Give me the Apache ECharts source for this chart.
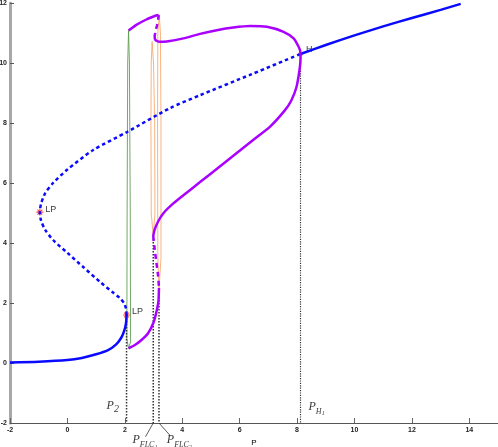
<!DOCTYPE html>
<html>
<head>
<meta charset="utf-8">
<script src="https://cdn.jsdelivr.net/npm/echarts@6/dist/echarts.min.js"></script>
<style>
  html, body { margin: 0; padding: 0; background: #fff; }
  #container { width: 498px; height: 447px; }
</style>
</head>
<body>
<div id="container"></div>
<script>
// equilibrium branch (P, x)
let eqStableLow = [[-2, 0.02], [-1, 0.045], [0, 0.1], [0.5, 0.17], [1, 0.29], [1.4, 0.42], [1.7, 0.62], [1.88, 0.85], [1.98, 1.08], [2.04, 1.32], [2.06, 1.6]];
let eqUnstable = [[2.06, 1.6], [2.04, 1.82], [1.97, 2.0], [1.82, 2.17], [1.6, 2.34], [1.14, 2.7], [0.55, 3.2], [0, 3.67], [-0.5, 4.1], [-0.78, 4.45],
    [-0.92, 4.75], [-0.96, 5.03], [-0.92, 5.3], [-0.78, 5.65], [-0.5, 6.0], [0, 6.45], [0.9, 7.1], [2.08, 7.7], [3.58, 8.5], [4.63, 8.93], [6.4, 9.62], [8.12, 10.3]];
let eqStableHigh = [[8.12, 10.3], [9, 10.6], [10, 10.92], [11, 11.22], [12, 11.5], [13, 11.77], [13.7, 11.97]];

// limit cycle branch, max and min
let lcMaxStableA = [[2.13, 11.08], [2.4, 11.27], [2.75, 11.45], [3.0, 11.55], [3.12, 11.59], [3.18, 11.6]];
let lcMaxUnstable = [[3.18, 11.6], [3.16, 11.45], [3.12, 11.25], [3.08, 11.1], [3.06, 11.0]];
let lcMaxStableB = [[3.06, 11.0], [3.04, 10.9], [3.05, 10.8], [3.1, 10.74], [3.2, 10.71], [3.46, 10.72], [4.04, 10.82], [4.62, 10.97], [5.2, 11.09],
    [5.78, 11.18], [6.37, 11.23], [6.95, 11.21], [7.53, 11.04], [7.88, 10.82], [8.05, 10.55], [8.11, 10.4], [8.12, 10.3]];
let lcMinStableA = [[8.12, 10.3], [8.12, 10.15], [8.09, 9.8], [7.98, 9.2], [7.8, 8.75], [7.58, 8.43], [7.06, 7.88], [6.48, 7.44], [6.02, 7.09], [5.32, 6.56],
    [4.62, 6.03], [4.13, 5.66], [3.69, 5.32], [3.35, 5.0], [3.15, 4.7], [3.03, 4.42], [2.99, 4.23]];
let lcMinUnstable = [[2.99, 4.23], [3.04, 3.8], [3.1, 3.35], [3.16, 2.9], [3.19, 2.5]];
let lcMinStableB = [[3.19, 2.5], [3.17, 2.05], [3.1, 1.7], [3.0, 1.35], [2.81, 0.99], [2.55, 0.74], [2.35, 0.6], [2.13, 0.49]];

// sample orbits
let orbitGreen = [[2.07, 0.8], [2.13, 0.49], [2.2, 0.7], [2.19, 5], [2.16, 10], [2.13, 11.08], [2.1, 10], [2.08, 5], [2.07, 0.8]];
let orbitOrange1 = [[2.99, 4.25], [3.05, 5], [3.04, 8], [3.0, 10], [2.95, 10.71], [2.92, 10], [2.91, 8], [2.92, 5], [2.99, 4.25]];
let orbitOrange2 = [[3.19, 2.45], [3.26, 3.5], [3.26, 8], [3.24, 11], [3.2, 11.6], [3.15, 11], [3.14, 8], [3.15, 3.5], [3.19, 2.45]];

// special points
let lpPoints = [[-0.96, 5.03], [2.06, 1.6]];
let hopfPoint = [8.12, 10.3];
let dropP2 = [[2.06, 1.6], [2.06, -2]];
let dropFLC1 = [[2.99, 4.23], [2.99, -2]];
let dropFLC2 = [[3.19, 2.5], [3.19, -2]];
let dropH1 = [[8.12, 10.3], [8.12, -2]];
let leaderFLC1 = [[2.99, -2], [2.72, -2.46]];
let leaderFLC2 = [[3.19, -2], [3.6, -2.44]];
let paramLabels = [
    { value: [1.58, -1.45], text: '{m|P}{s2|2}' },
    { value: [2.7, -2.6], text: '{m|P}{s|FLC}{ss|1}' },
    { value: [3.9, -2.6], text: '{m|P}{s|FLC}{ss|2}' },
    { value: [8.68, -1.49], text: '{m|P}{s|H}{ss|1}' }
];

let xTicks = { min: -2, max: 15, interval: 2 };
let yTicks = { min: -2, max: 12, interval: 2 };

let blue = '#0a0aff';
let purple = '#aa00ff';
let star = 'path://M-0.8,-5L0.8,-5L0.8,5L-0.8,5Z M-5,-0.8L5,-0.8L5,0.8L-5,0.8Z M-4,-2.9L-2.9,-4L4,2.9L2.9,4Z M2.9,-4L4,-2.9L-2.9,4L-4,2.9Z';

function curve(data, color, width, type, smooth, opacity) {
    return {
        type: 'line', data: data, symbol: 'none', smooth: smooth, clip: false, silent: true,
        lineStyle: { color: color, width: width, type: type, opacity: opacity === undefined ? 1 : opacity }
    };
}

let serif = { fontFamily: 'Liberation Serif', fontStyle: 'italic', color: '#000' };

let dom = document.getElementById('container');
let myChart = echarts.init(dom);
let option = {
    animation: false,
    grid: { left: 10, right: 0, top: 3, bottom: 24, containLabel: false, outerBoundsMode: 'none' },
    xAxis: {
        type: 'value', min: xTicks.min, max: xTicks.max, interval: xTicks.interval,
        name: 'P', nameLocation: 'middle', nameGap: 12,
        nameTextStyle: { fontSize: 8, color: '#000', fontFamily: 'Liberation Sans' },
        axisLine: { onZero: false, lineStyle: { color: '#555', width: 1 } },
        axisTick: { inside: true, length: 5, lineStyle: { color: '#666' } },
        axisLabel: { fontSize: 7, fontWeight: 'bold', color: '#222', margin: 4, showMaxLabel: false },
        splitLine: { show: false }
    },
    yAxis: {
        type: 'value', min: yTicks.min, max: yTicks.max, interval: yTicks.interval,
        axisLine: { onZero: false, lineStyle: { color: '#a8a8a8', width: 3 } },
        axisTick: { inside: true, length: 4, lineStyle: { color: '#555' } },
        axisLabel: { fontSize: 7, fontWeight: 'bold', color: '#222', margin: 3 },
        splitLine: { show: false }
    },
    series: [
        curve(orbitGreen, '#5a9a4e', 1, 'solid', false, 0.85),
        curve(orbitOrange1, '#f59a55', 1, 'solid', false, 0.75),
        curve(orbitOrange2, '#f59a55', 1, 'solid', false, 0.75),
        curve(dropP2, '#333', 1.5, 'dotted', false),
        curve(dropFLC1, '#333', 1.5, 'dotted', false),
        curve(dropFLC2, '#333', 1.5, 'dotted', false),
        curve(dropH1, '#333', 1.2, 'dotted', false),
        curve(leaderFLC1, '#333', 0.8, 'solid', false),
        curve(leaderFLC2, '#333', 0.8, 'solid', false),
        curve(eqStableLow, blue, 2.5, 'solid', 0.25),
        curve(eqUnstable, blue, 2.5, [3.5, 3], 0.25),
        curve(eqStableHigh, blue, 2.5, 'solid', 0.25),
        curve(lcMaxStableA, purple, 2.5, 'solid', 0.2),
        curve(lcMaxUnstable, purple, 2.5, [5, 4], 0.2),
        curve(lcMaxStableB, purple, 2.5, 'solid', 0.2),
        curve(lcMinStableA, purple, 2.5, 'solid', 0.2),
        curve(lcMinUnstable, purple, 2.5, [5, 4], 0.2),
        curve(lcMinStableB, purple, 2.5, 'solid', 0.2),
        {
            type: 'scatter', data: lpPoints, symbol: star, symbolSize: 7, clip: false, silent: true,
            itemStyle: { color: '#ff1a1a' },
            label: { show: true, formatter: 'LP', position: 'right', distance: 2, offset: [0, -3],
                fontSize: 9, color: '#000', fontFamily: 'Liberation Sans' }
        },
        {
            type: 'scatter', data: [hopfPoint], symbol: star, symbolSize: 5, clip: false, silent: true,
            itemStyle: { color: '#ff1a1a' },
            label: { show: true, formatter: 'H', position: 'right', distance: 3, offset: [0, -4],
                fontSize: 9, color: '#000', fontFamily: 'Liberation Sans' }
        },
        {
            type: 'scatter', symbolSize: 0, clip: false, silent: true,
            data: paramLabels.map(function (d) { return { value: d.value, label: { formatter: d.text } }; }),
            label: {
                show: true, position: 'inside',
                rich: {
                    m: Object.assign({ fontSize: 12, lineHeight: 14, verticalAlign: 'top' }, serif),
                    s2: Object.assign({ fontSize: 10, lineHeight: 10, padding: [5, 0, 0, 0], verticalAlign: 'top' }, serif),
                    s: Object.assign({ fontSize: 8, lineHeight: 8, padding: [7, 0, 0, 0], verticalAlign: 'top' }, serif),
                    ss: Object.assign({ fontSize: 6, lineHeight: 6, padding: [10, 0, 0, 0], verticalAlign: 'top' }, serif)
                }
            }
        }
    ]
};
if (option && typeof option === 'object') {
    myChart.setOption(option, true);
}
</script>
</body>
</html>
